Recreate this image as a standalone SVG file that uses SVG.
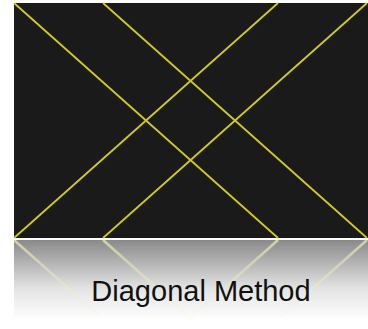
<svg xmlns="http://www.w3.org/2000/svg" width="368" height="329" viewBox="0 0 368 329">
<defs>
<style>
.diag{stroke:#d2cb16;stroke-width:1.8;fill:none;stroke-linecap:butt}
.refl{stroke:#f2f0b8;stroke-width:2.6;fill:none;opacity:0.7}
.label{font-family:"Liberation Sans",Arial,sans-serif;font-size:29px;fill:#111}
</style>
<linearGradient id="gray" x1="0" y1="240" x2="0" y2="329" gradientUnits="userSpaceOnUse">
<stop offset="0" stop-color="#8a8a8a"/>
<stop offset="0.55" stop-color="#e4e4e4"/>
<stop offset="0.9" stop-color="#ffffff"/>
</linearGradient>
<linearGradient id="fade" x1="0" y1="240" x2="0" y2="325" gradientUnits="userSpaceOnUse">
<stop offset="0" stop-color="#fff" stop-opacity="1"/>
<stop offset="1" stop-color="#fff" stop-opacity="0"/>
</linearGradient>
<mask id="fadeMask" maskUnits="userSpaceOnUse" x="0" y="238" width="368" height="91">
<rect x="0" y="238" width="368" height="91" fill="url(#fade)"/>
</mask>
<clipPath id="reflClip"><rect x="14" y="240" width="354" height="89"/></clipPath>
</defs>
<rect width="368" height="329" fill="#ffffff"/>
<g id="photo">
<rect x="14" y="3" width="354" height="235" fill="#1a1a1a"/>
<line class="diag" x1="14" y1="3" x2="278" y2="238"/>
<line class="diag" x1="103" y1="3" x2="367" y2="238"/>
<line class="diag" x1="278" y1="3" x2="14" y2="238"/>
<line class="diag" x1="367" y1="3" x2="103" y2="238"/>
</g>
<g id="reflection">
<rect x="14" y="240" width="354" height="89" fill="url(#gray)"/>
<g clip-path="url(#reflClip)" mask="url(#fadeMask)">
<line class="refl" x1="278" y1="240" x2="14" y2="475"/>
<line class="refl" x1="367" y1="240" x2="103" y2="475"/>
<line class="refl" x1="14" y1="240" x2="278" y2="475"/>
<line class="refl" x1="103" y1="240" x2="367" y2="475"/>
</g>
</g>
<g id="caption">
<text class="label" x="201" y="301" text-anchor="middle">Diagonal Method</text>
</g>
</svg>
